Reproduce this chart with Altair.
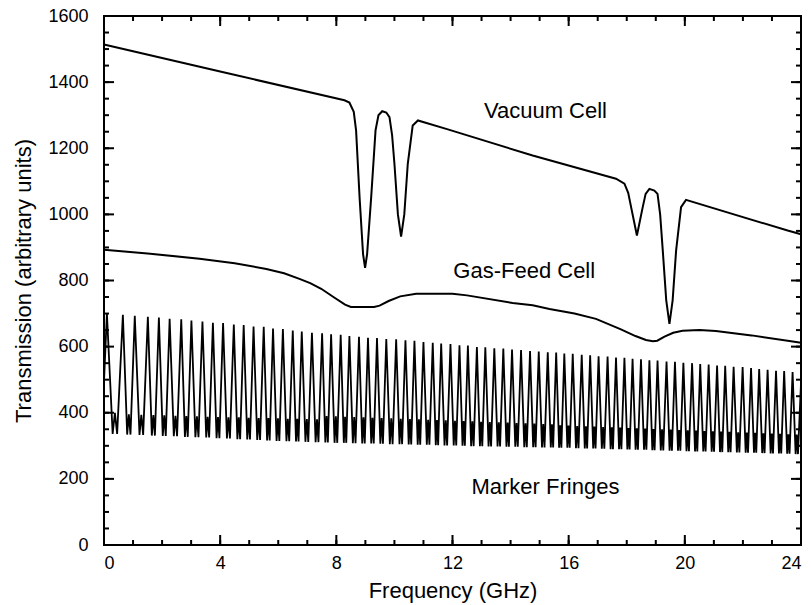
import altair as alt
import pandas as pd

# ---------------- data ----------------
# Vacuum cell trace (GHz, arbitrary units)
vac_x = [0.0, 4.0, 8.28, 8.45, 8.6, 8.68, 8.8, 8.92, 8.99, 9.06, 9.2, 9.35, 9.45, 9.58,
         9.72, 9.83, 9.92, 10.0, 10.12, 10.23, 10.34, 10.46, 10.63, 10.81, 11.84, 14.76,
         17.63, 17.92, 18.05, 18.15, 18.35, 18.55, 18.65, 18.78, 18.95, 19.06, 19.15,
         19.24, 19.36, 19.47, 19.58, 19.70, 19.87, 20.04, 23.54, 24.0]
vac_y = [1514, 1432, 1345, 1338, 1310, 1254, 1052, 880, 838, 880, 1052, 1254, 1300, 1312,
         1308, 1294, 1240, 1154, 1000, 933, 1000, 1153, 1269, 1284, 1257, 1178,
         1108, 1093, 1065, 1022, 936, 1022, 1062, 1077, 1072, 1062, 1000,
         891, 740, 669, 740, 891, 1022, 1044, 951, 940]

# Gas-feed cell trace
gas_x = [0.0, 1.5, 3.29, 4.5, 5.59, 6.2, 6.73, 7.1, 7.48, 7.9, 8.3, 8.5, 9.3, 9.49, 9.8,
         10.2, 10.75, 12.0, 12.5, 14.07, 14.76, 15.34, 16.2, 16.94, 17.8, 18.3, 18.66,
         18.9, 19.05, 19.3, 19.6, 19.92, 20.5, 21.07, 22.3, 23.6, 24.0]
gas_y = [893, 882, 866, 852, 835, 822, 805, 792, 775, 750, 727, 720, 720, 724, 738,
         752, 760, 760, 755, 732, 725, 714, 700, 684, 652, 632, 620,
         616, 618, 630, 642, 648, 650, 647, 634, 617, 612]

# Marker fringes: peak positions, peak heights, trough heights, mid-bump heights
fr_peak_x = [0.10, 0.65, 1.06, 1.51, 1.89, 2.26, 2.66, 3.01, 3.39, 3.75, 4.10, 4.47, 4.81,
             5.15, 5.50, 5.82, 6.16, 6.50, 6.81, 7.16,
             7.51, 7.82, 8.15, 8.45, 8.78, 9.09, 9.40, 9.72, 10.06, 10.38, 10.69, 11.00,
             11.32, 11.61, 11.93, 12.24, 12.53, 12.84, 13.13, 13.44, 13.75, 14.05, 14.36,
             14.67, 14.97, 15.28,
             15.57, 15.85, 16.14, 16.45, 16.74, 17.03, 17.34, 17.63, 17.92, 18.20, 18.49,
             18.78, 19.06, 19.37, 19.66, 19.95, 20.25, 20.53, 20.82, 21.11, 21.39, 21.68,
             21.99, 22.28, 22.56, 22.85, 23.14, 23.42, 23.71]
fr_peak_y = [700, 696, 693, 690, 688, 684, 683, 679, 676, 672, 671, 667, 665, 661, 660,
             655, 653, 649, 646, 642,
             640, 637, 636, 632, 630, 627, 626, 623, 622, 619, 618, 614, 612, 609, 608,
             604, 603, 599, 598, 595, 594, 591, 590, 587, 585, 583,
             582, 579, 578, 575, 574, 571, 570, 567, 566, 563, 562, 559, 558, 555, 554,
             551, 550, 547, 546, 543, 542, 539, 538, 535, 532, 530, 527, 526, 523]
fr_trough_y = [336, 334, 333, 331, 330, 329, 327, 326, 325, 323, 322, 320, 319, 318, 316,
               315, 314, 313, 312, 311,
               310, 309, 309, 308, 307, 307, 306, 305, 305, 304, 303, 303, 302, 301, 301,
               300, 299, 299, 298, 298, 297, 297, 296, 296, 295, 295,
               294, 294, 293, 292, 292, 291, 290, 290, 289, 288, 288, 287, 286, 285, 285,
               284, 283, 283, 282, 281, 281, 280, 279, 279, 278, 277, 277, 276, 275]
fr_bump_y = [400, 395, 394, 393, 392, 391, 390, 389, 388, 387, 386, 386, 385, 384, 384,
             383, 382, 382, 381, 380,
             390, 389, 388, 387, 386, 385, 384, 383, 382, 381, 380, 379, 378, 377, 376,
             375, 374, 373, 372, 371, 370, 369, 368, 367, 366, 365,
             362, 361, 360, 359, 358, 357, 356, 355, 354, 353, 352, 351, 350, 349, 348,
             347, 346, 345, 344, 343, 342, 341, 340, 339, 338, 337, 336, 335, 334]
fr_start = [0.0, 495]
fr_end = [24.0, 490]

labels = ["Vacuum Cell", "Gas-Feed Cell", "Marker Fringes"]
label_x = [15.2, 14.47, 15.2]
label_y = [1314, 830, 175]

x_major = [0, 4, 8, 12, 16, 20, 24]
x_minor = list(range(0, 25))
y_major = [0, 200, 400, 600, 800, 1000, 1200, 1400, 1600]
y_minor = list(range(0, 1601, 50))

W, H = 697, 529
X0, X1, Y0, Y1 = 0, 24, 0, 1600
MAJ, MIN = 10, 5          # tick lengths in pixels
PX_X = W / (X1 - X0)      # pixels per GHz
PX_Y = H / (Y1 - Y0)      # pixels per unit

# ---------------- build tables ----------------
cells = pd.DataFrame({
    "x": vac_x + gas_x,
    "y": vac_y + gas_y,
    "series": ["Vacuum"] * len(vac_x) + ["Gas"] * len(gas_x),
    "i": list(range(len(vac_x))) + list(range(len(gas_x))),
})

fx, fy = [fr_start[0]], [fr_start[1]]
n = len(fr_peak_x)
for k in range(n):
    fx.append(fr_peak_x[k]); fy.append(fr_peak_y[k])
    nxt = fr_peak_x[k + 1] if k + 1 < n else fr_peak_x[k] + (fr_peak_x[k] - fr_peak_x[k - 1])
    d = nxt - fr_peak_x[k]
    fx += [fr_peak_x[k] + 0.36 * d, fr_peak_x[k] + 0.5 * d, fr_peak_x[k] + 0.64 * d]
    fy += [fr_trough_y[k], fr_bump_y[k], fr_trough_y[k]]
fx.append(fr_end[0]); fy.append(fr_end[1])
fringes = pd.DataFrame({"x": fx, "y": fy, "i": range(len(fx))})
fringes = fringes[fringes.x <= 24.0]

lab = pd.DataFrame({"t": labels, "x": label_x, "y": label_y})

# tick segments (inward on all four sides)
rows = []
for vals, size in ((x_minor, MIN), (x_major, MAJ)):
    for v in vals:
        rows.append({"x": v, "x2": v, "y": Y0, "y2": Y0 + size / PX_Y})
        rows.append({"x": v, "x2": v, "y": Y1, "y2": Y1 - size / PX_Y})
for vals, size in ((y_minor, MIN), (y_major, MAJ)):
    for v in vals:
        rows.append({"x": X0, "x2": X0 + size / PX_X, "y": v, "y2": v})
        rows.append({"x": X1, "x2": X1 - size / PX_X, "y": v, "y2": v})
ticks = pd.DataFrame(rows)

FONT = "Liberation Sans"
xs = alt.Scale(domain=[X0, X1], nice=False, zero=False)
ys = alt.Scale(domain=[Y0, Y1], nice=False, zero=False)

cell_layer = alt.Chart(cells).mark_line(color="black", strokeWidth=2).encode(
    x=alt.X("x:Q", scale=xs, axis=alt.Axis(
        orient="bottom", values=x_major, ticks=False, domain=False, grid=False,
        labelFont=FONT, labelFontSize=18, labelColor="black", labelPadding=9, format="d",
        title="Frequency (GHz)", titleFont=FONT, titleFontSize=22, titleFontWeight="normal",
        titleColor="black", titlePadding=8)),
    y=alt.Y("y:Q", scale=ys, axis=alt.Axis(
        orient="left", values=y_major, ticks=False, domain=False, grid=False,
        labelFont=FONT, labelFontSize=18, labelColor="black", labelPadding=16, format="d",
        title="Transmission (arbitrary units)", titleFont=FONT, titleFontSize=22,
        titleFontWeight="normal", titleColor="black", titlePadding=12)),
    detail="series:N",
    order="i:Q",
)

fringe_layer = alt.Chart(fringes).mark_line(color="black", strokeWidth=1.8).encode(
    x=alt.X("x:Q", scale=xs),
    y=alt.Y("y:Q", scale=ys),
    order="i:Q",
)

text_layer = alt.Chart(lab).mark_text(font=FONT, fontSize=22, color="black",
                                      align="center", baseline="middle").encode(
    x=alt.X("x:Q", scale=xs),
    y=alt.Y("y:Q", scale=ys),
    text="t:N",
)

tick_layer = alt.Chart(ticks).mark_rule(color="black", strokeWidth=2).encode(
    x=alt.X("x:Q", scale=xs), x2="x2:Q",
    y=alt.Y("y:Q", scale=ys), y2="y2:Q",
)

chart = alt.layer(
    cell_layer, fringe_layer, text_layer, tick_layer
).properties(
    width=W, height=H,
    autosize=alt.AutoSizeParams(type="none"),
    padding={"left": 104, "top": 16, "right": 10, "bottom": 60},
    background="white",
).configure_view(stroke="black", strokeWidth=2)

chart.save("out.html", embed_options={"renderer": "svg", "actions": False})
